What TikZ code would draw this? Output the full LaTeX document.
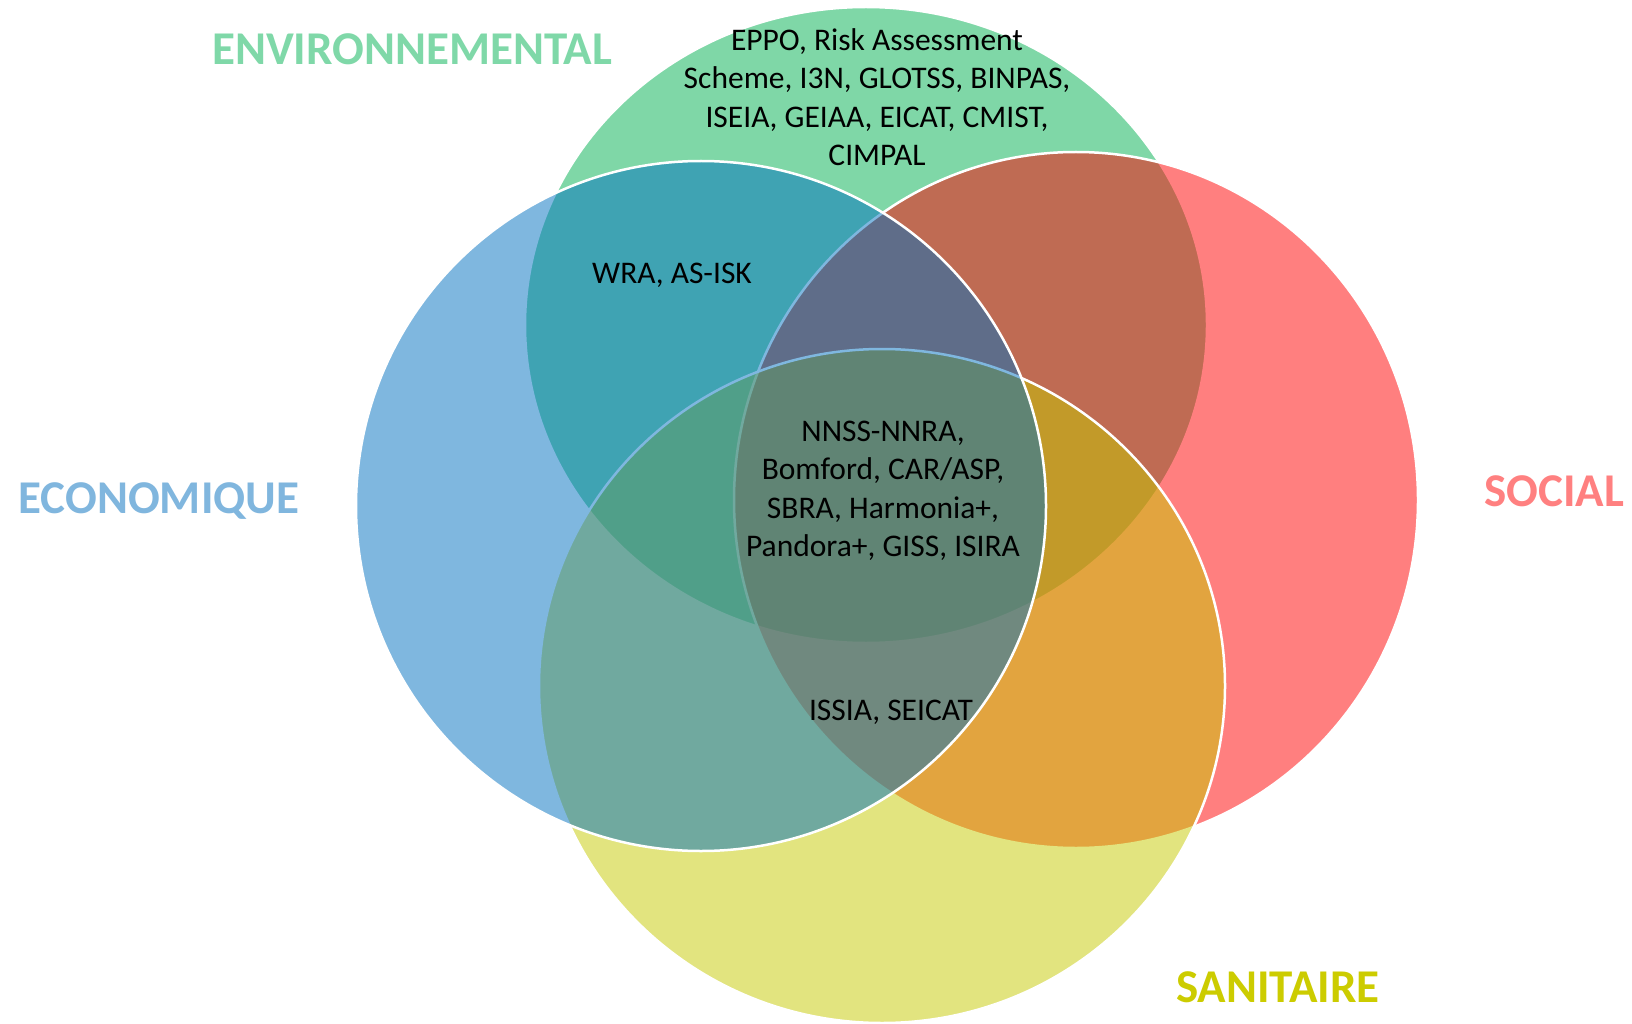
\documentclass[tikz,border=0pt]{standalone}
\usepackage{fontspec}
\setmainfont{Carlito}
\definecolor{envfill}{RGB}{0,176,80}
\definecolor{socfill}{RGB}{255,0,0}
\definecolor{sanfill}{RGB}{198,202,0}
\definecolor{ecofill}{RGB}{0,112,192}
\definecolor{envtxt}{RGB}{127,216,168}
\definecolor{ecotxt}{RGB}{128,182,222}
\definecolor{soctxt}{RGB}{255,128,128}
\definecolor{santxt}{RGB}{204,204,0}
\tikzset{
  setshape/.style={draw=white, line width=2.5pt, fill opacity=0.5},
  biglabel/.style={font=\fontsize{47}{56}\selectfont\bfseries, inner sep=0pt, anchor=base},
  toollist/.style={font=\fontsize{31.5}{38.5}\selectfont, align=center, inner sep=0pt, text=black}
}
\begin{document}
\begin{tikzpicture}[x=1pt,y=-1pt]
\useasboundingbox[fill=white] (0,0) rectangle (1632,1024);
% sets, drawn in stacking order
\path[setshape, fill=envfill] (866,325) ellipse [x radius=341pt, y radius=318pt];
\path[setshape, fill=socfill] (1076,500) ellipse [x radius=342pt, y radius=348pt];
\path[setshape, fill=sanfill] (882,686) ellipse [x radius=343pt, y radius=337pt];
\path[setshape, fill=ecofill] (701,506) ellipse [x radius=345pt, y radius=345pt];
% category labels
\node[biglabel, text=envtxt] (lenv) at (412,65) {ENVIRONNEMENTAL};
\node[biglabel, text=ecotxt] (leco) at (159,513) {ECONOMIQUE};
\node[biglabel, text=soctxt] (lsoc) at (1554,506) {SOCIAL};
\node[biglabel, text=santxt] (lsan) at (1278,1002) {SANITAIRE};
% tool lists
\node[toollist] (tenv) at (877,97) {EPPO, Risk Assessment\\Scheme, I3N, GLOTSS, BINPAS,\\ISEIA, GEIAA, EICAT, CMIST,\\CIMPAL};
\node[toollist] (tenveco) at (672,275) {WRA, AS-ISK};
\node[toollist] (tall) at (883,491) {NNSS-NNRA,\\Bomford, CAR/ASP,\\SBRA, Harmonia+,\\Pandora+, GISS, ISIRA};
\node[toollist] (tsan) at (891,712) {ISSIA, SEICAT};
\end{tikzpicture}
\end{document}
